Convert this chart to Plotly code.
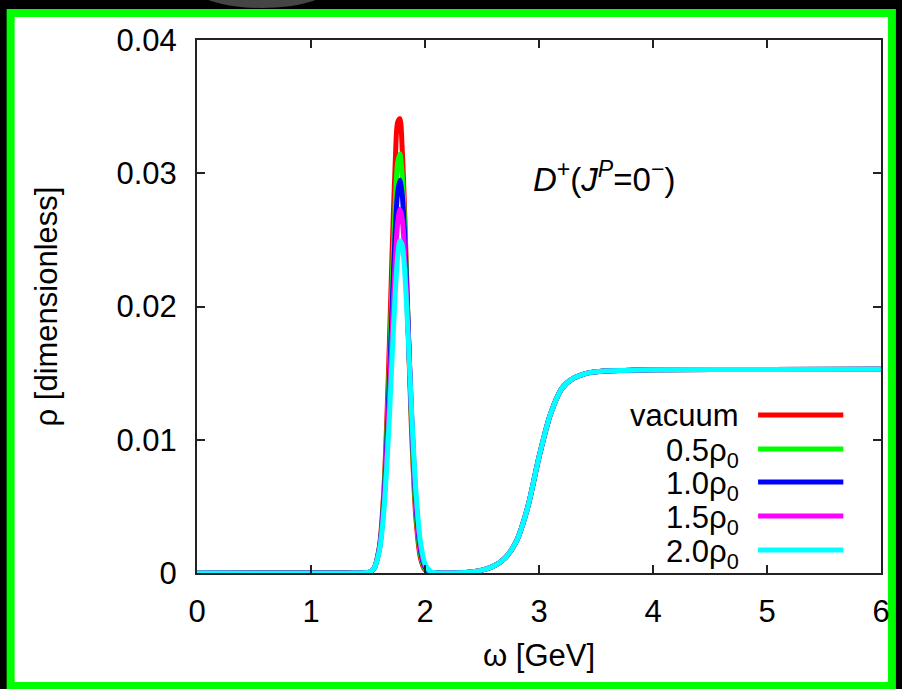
import plotly.graph_objects as go

# ---------------- data ----------------
omega_peak = [0.0, 1.40, 1.50, 1.55, 1.60, 1.64, 1.68, 1.71, 1.74, 1.76, 1.78,
              1.80, 1.82, 1.85, 1.88, 1.92, 1.96, 2.00, 2.05, 2.10, 2.20]
rho_vacuum = [0, 0, 0.00003, 0.00030, 0.00198, 0.00639, 0.01516, 0.02368, 0.03108, 0.03383, 0.03409,
              0.03180, 0.02746, 0.01907, 0.01114, 0.00415, 0.00114, 0.00023, 0.00002, 0.0, 0.0]
rho_05 = [0, 0, 0.00003, 0.00030, 0.00186, 0.00582, 0.01358, 0.02117, 0.02798, 0.03077, 0.03145,
          0.02989, 0.02640, 0.01911, 0.01173, 0.00474, 0.00143, 0.00032, 0.00003, 0.0, 0.0]
rho_10 = [0, 0, 0.00003, 0.00031, 0.00184, 0.00554, 0.01263, 0.01954, 0.02586, 0.02859, 0.02950,
          0.02839, 0.02551, 0.01907, 0.01220, 0.00528, 0.00173, 0.00043, 0.00005, 0.0, 0.0]
rho_15 = [0, 0, 0.00004, 0.00033, 0.00179, 0.00521, 0.01161, 0.01783, 0.02361, 0.02624, 0.02729,
          0.02658, 0.02425, 0.01867, 0.01240, 0.00571, 0.00202, 0.00055, 0.00007, 0.00001, 0.0]
rho_20 = [0, 0, 0.00004, 0.00032, 0.00168, 0.00473, 0.01039, 0.01592, 0.02119, 0.02372, 0.02493,
          0.02462, 0.02284, 0.01815, 0.01254, 0.00615, 0.00235, 0.00070, 0.00011, 0.00001, 0.0]

omega_cont = [2.30, 2.40, 2.50, 2.60, 2.70, 2.80, 2.90, 3.00, 3.10, 3.20, 3.30,
              3.40, 3.50, 3.75, 4.00, 5.00, 6.00]
rho_cont = [0.00002, 0.00008, 0.00022, 0.00050, 0.00110, 0.00235, 0.00490, 0.00870, 0.01190, 0.01385, 0.01460,
            0.01495, 0.01510, 0.01520, 0.01525, 0.01528, 0.01530]

series_names = ["vacuum", "0.5ρ<sub>0</sub>", "1.0ρ<sub>0</sub>", "1.5ρ<sub>0</sub>", "2.0ρ<sub>0</sub>"]
series_rho = [rho_vacuum, rho_05, rho_10, rho_15, rho_20]
series_colors = ["#ff0000", "#00ff00", "#0000ff", "#ff00ff", "#00ffff"]

x_ticks = [0, 1, 2, 3, 4, 5, 6]
y_ticks = [0, 0.01, 0.02, 0.03, 0.04]
y_ticklabels = ["0", "0.01", "0.02", "0.03", "0.04"]

# ---------------- layout geometry ----------------
W, H = 902, 689
ML, MR, MT, MB = 197, 15, 40, 116
PW, PH = W - ML - MR, H - MT - MB

def px(x):
    return (x - ML) / PW

def py(y):
    return (H - MB - y) / PH

FONT = "Liberation Sans, Arial, sans-serif"
FS = 31
LW = 5

fig = go.Figure()
for name, rho, col in zip(series_names, series_rho, series_colors):
    fig.add_trace(go.Scatter(
        x=omega_peak + omega_cont, y=rho + rho_cont, mode="lines", name=name,
        line=dict(color=col, width=LW, shape="spline", smoothing=0.8),
        showlegend=False, hoverinfo="skip"))

shapes = []
# soft grey blob in the black band at the top (photo artefact)
shapes.append(dict(type="circle", xref="paper", yref="paper",
                   x0=px(190), x1=px(335), y0=py(8), y1=py(-40),
                   fillcolor="#8a8a8a", line=dict(width=0), layer="below", opacity=0.5))
# green frame with white inside
shapes.append(dict(type="rect", xref="paper", yref="paper",
                   x0=px(9), x1=px(898), y0=py(686), y1=py(13),
                   fillcolor="white", line=dict(color="#00ff00", width=8), layer="below"))

annotations = []
row_y = [415, 449, 482, 516, 550]
for name, col, yy in zip(series_names, series_colors, row_y):
    shapes.append(dict(type="line", xref="paper", yref="paper",
                       x0=px(763), x1=px(849), y0=py(yy), y1=py(yy),
                       line=dict(color=col, width=LW)))
    annotations.append(dict(xref="paper", yref="paper", x=px(746), y=py(yy),
                            xanchor="right", yanchor="middle", showarrow=False,
                            yshift=(0 if name == "vacuum" else -4),
                            text=name, font=dict(family=FONT, size=FS, color="black")))

annotations.append(dict(x=3.57, y=0.0297, xref="x", yref="y", showarrow=False,
                        text="<i>D</i><sup>+</sup>(<i>J</i><sup><i>P</i></sup>=0<sup>−</sup>)",
                        font=dict(family=FONT, size=33, color="black")))

axis_common = dict(showline=True, linecolor="#222222", linewidth=2, mirror="ticks",
                   ticks="inside", ticklen=8, tickwidth=2, tickcolor="#222222",
                   showgrid=False, zeroline=False,
                   tickfont=dict(family=FONT, size=FS, color="black"))

fig.update_layout(
    width=W, height=H, margin=dict(l=ML, r=MR, t=MT, b=MB),
    paper_bgcolor="black", plot_bgcolor="white",
    shapes=shapes, annotations=annotations, showlegend=False,
    xaxis=dict(range=[0, 6], tickvals=x_ticks, ticktext=[str(v) for v in x_ticks],
               title=dict(text="ω [GeV]", font=dict(family=FONT, size=FS, color="black"), standoff=16),
               ticklabelstandoff=10, **axis_common),
    yaxis=dict(range=[0, 0.04], tickvals=y_ticks, ticktext=y_ticklabels,
               title=dict(text="ρ [dimensionless]", font=dict(family=FONT, size=FS, color="black"), standoff=50),
               ticklabelstandoff=12, **axis_common),
)

fig.write_html("out.html")
